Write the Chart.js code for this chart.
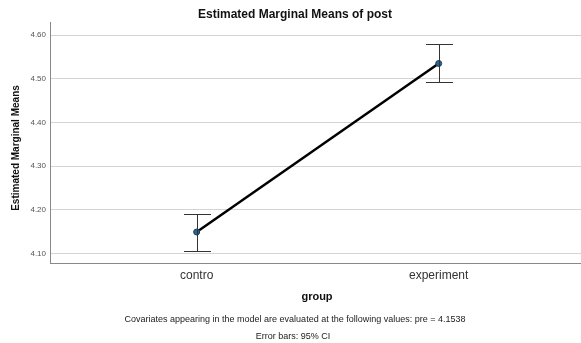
<!DOCTYPE html>
<html lang="en">
<head>
  <meta charset="UTF-8">
  <title>Estimated Marginal Means of post</title>
  <script src="https://cdn.jsdelivr.net/npm/chart.js"></script>
  <style>
    html, body { margin: 0; padding: 0; background: #fff; overflow: hidden; }
    canvas { display: block; }
  </style>
</head>
<body>
  <canvas id="emm" width="581" height="343"></canvas>

  <script>
    const groups = ['contro', 'experiment'];
    const means = [4.149, 4.535];
    const ciLower = [4.105, 4.492];
    const ciUpper = [4.190, 4.579];
    const yTicks = ['4.10', '4.20', '4.30', '4.40', '4.50', '4.60'];

    const titleText = 'Estimated Marginal Means of post';
    const yTitle = 'Estimated Marginal Means';
    const xTitle = 'group';
    const notes = [
      'Covariates appearing in the model are evaluated at the following values: pre = 4.1538',
      'Error bars: 95% CI'
    ];

    // error bars + text around the plot
    const extras = {
      id: 'extras',
      afterDatasetsDraw(chart) {
        const { ctx, scales: { x, y } } = chart;
        ctx.save();
        ctx.strokeStyle = '#333';
        ctx.lineWidth = 1;
        groups.forEach((g, i) => {
          const px = Math.round(x.getPixelForValue(i)) + 0.5;
          const top = y.getPixelForValue(ciUpper[i]);
          const bot = y.getPixelForValue(ciLower[i]);
          ctx.beginPath();
          ctx.moveTo(px, top); ctx.lineTo(px, bot);
          ctx.moveTo(px - 13.5, Math.round(top) + 0.5); ctx.lineTo(px + 13.5, Math.round(top) + 0.5);
          ctx.moveTo(px - 13.5, Math.round(bot) + 0.5); ctx.lineTo(px + 13.5, Math.round(bot) + 0.5);
          ctx.stroke();
        });
        ctx.restore();
      },
      afterDraw(chart) {
        const ctx = chart.ctx;
        ctx.save();
        ctx.fillStyle = '#111';
        ctx.textAlign = 'center';
        ctx.textBaseline = 'middle';
        ctx.font = 'bold 12px Arial';
        ctx.fillText(titleText, 295, 15);
        ctx.font = 'bold 11px Arial';
        ctx.fillText(xTitle, 317, 297);
        ctx.font = '9px Arial';
        ctx.fillStyle = '#222';
        ctx.fillText(notes[0], 295, 320);
        ctx.fillText(notes[1], 293, 337);
        ctx.translate(16, 148);
        ctx.rotate(-Math.PI / 2);
        ctx.font = 'bold 10px Arial';
        ctx.fillStyle = '#111';
        ctx.fillText(yTitle, 0, 0);
        ctx.restore();
      }
    };

    new Chart(document.getElementById('emm'), {
      type: 'line',
      data: {
        datasets: [{
          data: means.map((m, i) => ({ x: i, y: m })),
          borderColor: '#000',
          borderWidth: 2.5,
          pointRadius: 3,
          pointBackgroundColor: '#2a6496',
          pointBorderColor: '#1a3c5a',
          pointBorderWidth: 1,
          fill: false,
          tension: 0
        }]
      },
      options: {
        responsive: false,
        animation: false,
        layout: { autoPadding: false, padding: { top: 22, left: 0, right: 0, bottom: 0 } },
        plugins: {
          legend: { display: false },
          tooltip: { enabled: false }
        },
        scales: {
          x: {
            type: 'linear',
            min: -0.606,
            max: 1.588,
            afterFit: s => { s.height = 80; s.paddingLeft = 0; s.paddingRight = 0; },
            afterBuildTicks: s => { s.ticks = groups.map((g, i) => ({ value: i })); },
            grid: { display: false, drawTicks: false },
            border: { color: '#888', width: 1 },
            ticks: {
              padding: 5,
              color: '#333',
              font: { family: 'Arial', size: 12 },
              callback: v => groups[v]
            }
          },
          y: {
            min: 4.078,
            max: 4.630,
            afterFit: s => { s.width = 50; s.paddingTop = 0; s.paddingBottom = 0; },
            afterBuildTicks: s => { s.ticks = yTicks.map(t => ({ value: parseFloat(t) })); },
            grid: { color: '#d4d4d4', drawTicks: false },
            border: { color: '#888', width: 1 },
            ticks: {
              padding: 4,
              color: '#555',
              font: { family: 'Arial', size: 8 },
              callback: (v, i) => yTicks[i]
            }
          }
        }
      },
      plugins: [extras]
    });
  </script>
</body>
</html>
